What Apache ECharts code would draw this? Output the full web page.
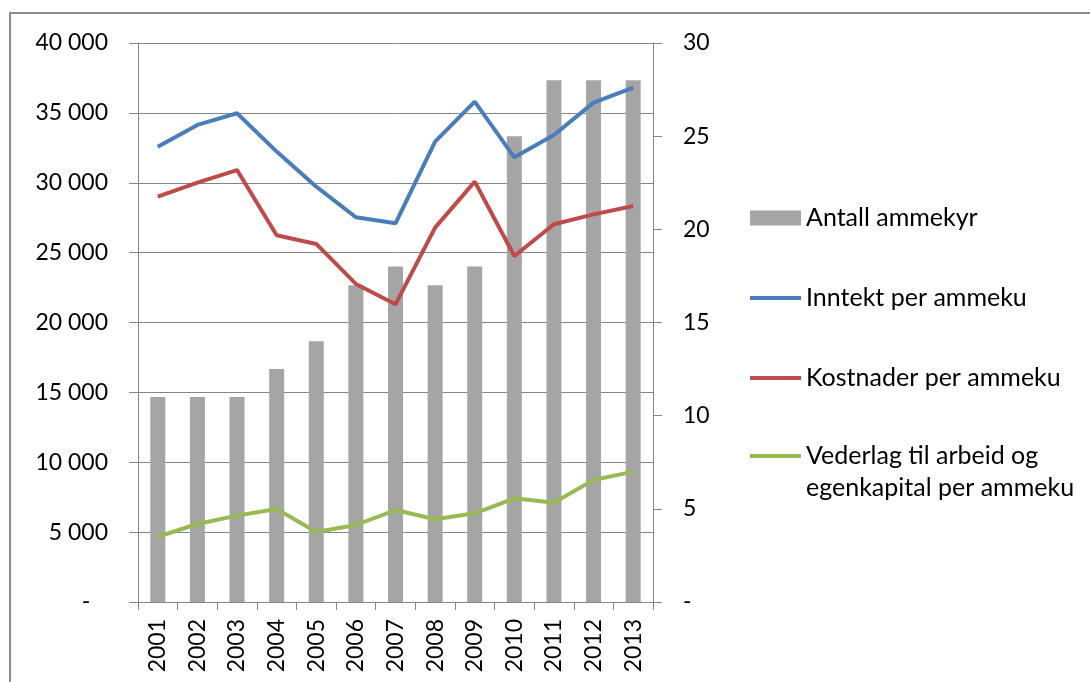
<!DOCTYPE html>
<html>
<head>
<meta charset="utf-8">
<script src="https://cdn.jsdelivr.net/npm/echarts@6/dist/echarts.min.js"></script>
<style>
  html, body { margin: 0; padding: 0; background: #fff; }
  #chart { width: 1090px; height: 682px; }
</style>
</head>
<body>
<div id="chart"></div>
<script>
const years = ['2001', '2002', '2003', '2004', '2005', '2006', '2007', '2008', '2009', '2010', '2011', '2012', '2013']
const antallAmmekyr = [11, 11, 11, 12.5, 14, 17, 18, 17, 18, 25, 28, 28, 28]
const inntekt = [32580, 34140, 34970, 32230, 29720, 27530, 27100, 32940, 35800, 31820, 33420, 35730, 36800]
const kostnader = [29000, 30010, 30910, 26240, 25620, 22760, 21300, 26790, 30080, 24760, 27030, 27740, 28340]
const vederlag = [4670, 5580, 6180, 6660, 5010, 5510, 6580, 5920, 6350, 7420, 7110, 8730, 9330]
const seriesNames = ['Antall ammekyr', 'Inntekt per ammeku', 'Kostnader per ammeku', 'Vederlag til arbeid og\negenkapital per ammeku']

const font = 'Lato'
const axisGray = '#868686'
const colors = ['#a5a5a5', '#4a7ebb', '#be4b48', '#98b954']
// flat bar used as legend icon for the line series
const lineIcon = 'path://M0,0 L54,0 L54,4 L0,4 Z'

function thousands(v) {
  if (v === 0) return '-   '
  return String(v).replace(/\B(?=(\d{3})+(?!\d))/g, ' ')
}

const chart = echarts.init(document.getElementById('chart'))

const legendText = { fontFamily: font, fontSize: 25, lineHeight: 32, color: '#000' }

chart.setOption({
  animation: false,
  backgroundColor: '#fff',
  textStyle: { fontFamily: font, color: '#000' },
  graphic: [{
    type: 'rect',
    shape: { x: 10, y: 13, width: 1200, height: 700 },
    style: { fill: 'none', stroke: '#8c8c8c', lineWidth: 2 },
    silent: true
  }],
  grid: { left: 138, right: 437, top: 43, bottom: 80 },
  legend: [
    {
      orient: 'vertical',
      left: 745,
      top: 197,
      itemGap: 48,
      itemWidth: 51,
      itemHeight: 15,
      textStyle: legendText,
      data: [
        { name: seriesNames[0], icon: 'rect' },
        { name: seriesNames[1], icon: lineIcon },
        { name: seriesNames[2], icon: lineIcon }
      ]
    },
    {
      // two-line entry: a blank first line keeps the icon level with "Vederlag..."
      orient: 'vertical',
      left: 745,
      top: 403,
      itemWidth: 51,
      itemHeight: 15,
      textStyle: legendText,
      formatter: name => '\n' + name,
      data: [{ name: seriesNames[3], icon: lineIcon }]
    }
  ],
  xAxis: {
    type: 'category',
    data: years,
    boundaryGap: true,
    axisLine: { lineStyle: { color: axisGray, width: 1 } },
    axisTick: { show: true, length: 8, lineStyle: { color: axisGray } },
    axisLabel: { rotate: 90, margin: 17, fontSize: 23, color: '#000', fontFamily: font }
  },
  yAxis: [
    {
      type: 'value',
      min: 0,
      max: 40000,
      interval: 5000,
      position: 'left',
      axisLine: { show: true, lineStyle: { color: axisGray } },
      axisTick: { show: true, length: 9, lineStyle: { color: axisGray } },
      splitLine: { show: true, lineStyle: { color: axisGray, width: 1 } },
      axisLabel: { formatter: thousands, margin: 30, fontSize: 23, color: '#000', fontFamily: font }
    },
    {
      type: 'value',
      min: 0,
      max: 30,
      interval: 5,
      position: 'right',
      axisLine: { show: true, lineStyle: { color: axisGray } },
      axisTick: { show: true, length: 9, lineStyle: { color: axisGray } },
      splitLine: { show: false },
      axisLabel: {
        formatter: v => (v === 0 ? '-' : String(v)),
        margin: 30,
        fontSize: 23,
        color: '#000',
        fontFamily: font
      }
    }
  ],
  series: [
    {
      name: seriesNames[0],
      type: 'bar',
      yAxisIndex: 1,
      data: antallAmmekyr,
      barWidth: 15,
      itemStyle: { color: colors[0] },
      z: 1
    },
    {
      name: seriesNames[1],
      type: 'line',
      data: inntekt,
      symbol: 'none',
      lineStyle: { color: colors[1], width: 4 },
      itemStyle: { color: colors[1] },
      z: 3
    },
    {
      name: seriesNames[2],
      type: 'line',
      data: kostnader,
      symbol: 'none',
      lineStyle: { color: colors[2], width: 4 },
      itemStyle: { color: colors[2] },
      z: 3
    },
    {
      name: seriesNames[3],
      type: 'line',
      data: vederlag,
      symbol: 'none',
      lineStyle: { color: colors[3], width: 4 },
      itemStyle: { color: colors[3] },
      z: 3
    }
  ]
})
</script>
</body>
</html>
